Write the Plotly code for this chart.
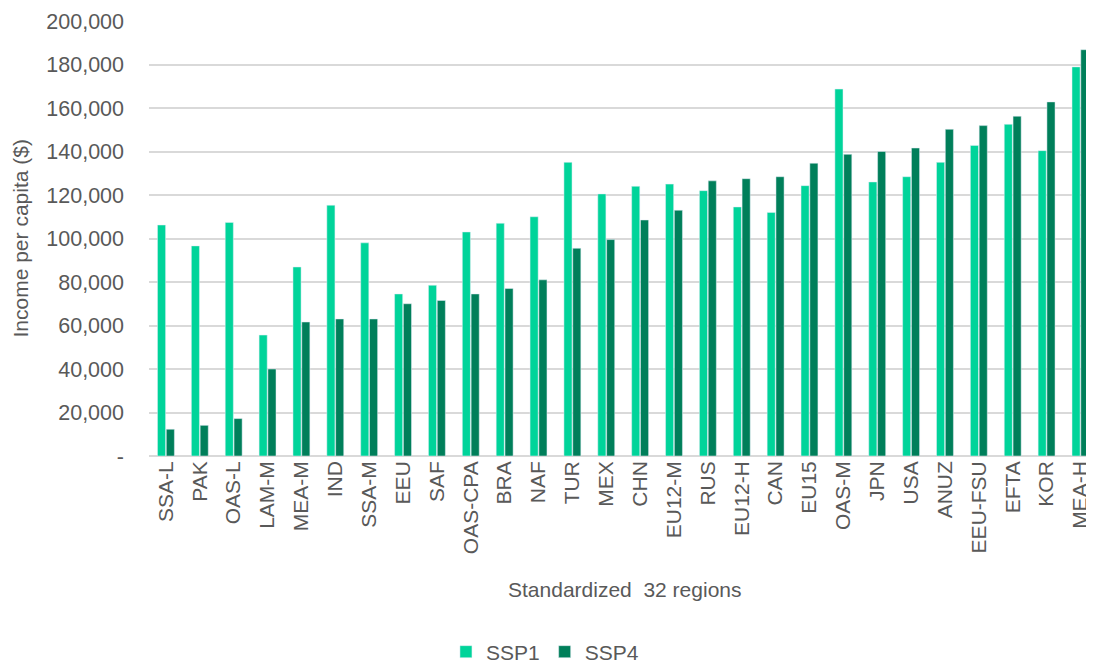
import plotly.graph_objects as go

regions = ["SSA-L", "PAK", "OAS-L", "LAM-M", "MEA-M", "IND", "SSA-M", "EEU", "SAF",
           "OAS-CPA", "BRA", "NAF", "TUR", "MEX", "CHN", "EU12-M", "RUS", "EU12-H",
           "CAN", "EU15", "OAS-M", "JPN", "USA", "ANUZ", "EEU-FSU", "EFTA", "KOR", "MEA-H"]
ssp1 = [106200, 96600, 107400, 55600, 86900, 115300, 98000, 74500, 78500,
        103000, 107000, 110000, 135000, 120500, 124000, 125000, 122000, 114500,
        112000, 124300, 168700, 126000, 128400, 135000, 142800, 152500, 140400, 178900]
ssp4 = [12300, 14100, 17200, 40000, 61600, 63000, 63000, 70000, 71500,
        74500, 77000, 81000, 95500, 99500, 108500, 113000, 126500, 127500,
        128400, 134600, 138700, 140000, 141600, 150200, 151900, 156200, 162800, 186800]
y_ticks = [0, 20000, 40000, 60000, 80000, 100000, 120000, 140000, 160000, 180000, 200000]
y_tick_text = ["-", "20,000", "40,000", "60,000", "80,000", "100,000", "120,000",
               "140,000", "160,000", "180,000", "200,000"]

FONT = "Arial, 'Liberation Sans', sans-serif"
GREY = "#595959"
FS = 21

fig = go.Figure()
fig.add_trace(go.Bar(x=regions, y=ssp1, name="SSP1", marker_color="#00D49A"))
fig.add_trace(go.Bar(x=regions, y=ssp4, name="SSP4", marker_color="#007F5A"))

fig.update_layout(
    width=1086, height=656,
    paper_bgcolor="white", plot_bgcolor="white",
    margin=dict(l=141, r=0, t=13, b=208, autoexpand=False),
    barmode="group", bargap=0.48, bargroupgap=0.08,
    font=dict(family=FONT, size=FS, color=GREY),
    showlegend=True,
    legend=dict(orientation="h", x=0.419, xanchor="center", y=-0.4506, yanchor="middle",
                font=dict(size=FS, color=GREY), itemwidth=30, traceorder="normal"),
    xaxis=dict(range=[-0.5, 27.4], tickangle=-90, showgrid=False, showline=False,
               ticks="", tickfont=dict(size=FS, color=GREY), automargin=False,
               ticklabeloverflow="allow"),
    yaxis=dict(range=[0, 200000], tickvals=y_ticks, ticktext=y_tick_text,
               showgrid=True, gridcolor="#D9D9D9", gridwidth=2, zeroline=True,
               zerolinecolor="#D9D9D9", zerolinewidth=2, ticks="", ticklabelstandoff=24,
               tickfont=dict(size=21.5, color=GREY), automargin=False),
    annotations=[
        dict(text="Income per capita ($)", xref="paper", yref="paper",
             x=-0.1365, y=0.5, xanchor="center", yanchor="middle", textangle=-90,
             showarrow=False, font=dict(size=FS, color=GREY)),
        dict(text="Standardized  32 regions", xref="paper", yref="paper",
             x=(625 - 149) / 945, y=-0.308, xanchor="center", yanchor="middle",
             showarrow=False, font=dict(size=FS, color=GREY)),
    ],
)

fig.write_html("out.html")
